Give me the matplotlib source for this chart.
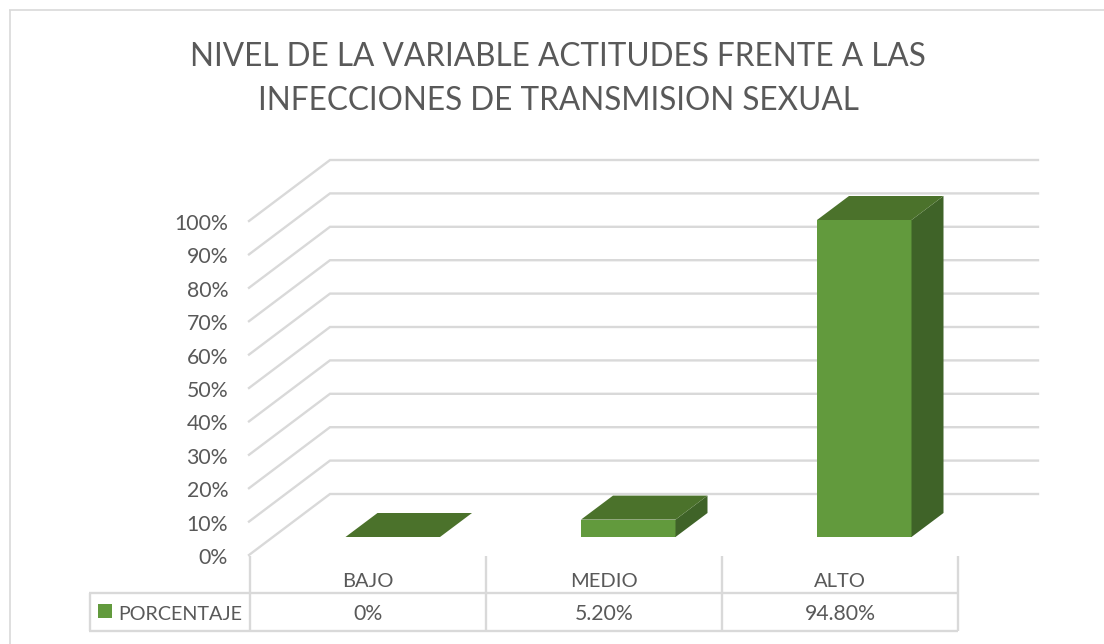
import matplotlib
matplotlib.use("Agg")
import matplotlib.pyplot as plt
from matplotlib.patches import Polygon, Rectangle

categories = ["BAJO", "MEDIO", "ALTO"]
values = [0, 5.2, 94.8]
table_labels = ["0%", "5.20%", "94.80%"]
ticks = [0, 10, 20, 30, 40, 50, 60, 70, 80, 90, 100]
series_name = "PORCENTAJE"
title_lines = ["NIVEL DE LA VARIABLE ACTITUDES FRENTE A LAS",
               "INFECCIONES DE TRANSMISION SEXUAL"]

W, H = 1104, 644
Y0 = 555          # pixel row of 0% on the front edge
PX_PER_PCT = 3.34

GRID = "#D9D9D9"
TEXT = "#595959"
FRONT = "#629A3D"
TOP = "#4B722B"
SIDE = "#3F6328"

plt.rcParams["font.family"] = ["Lato", "DejaVu Sans"]


def row(py):
    # pixel row -> y axis units (percent)
    return (Y0 - py) / PX_PER_PCT


fig = plt.figure(figsize=(W / 100, H / 100), dpi=100)
ax = fig.add_axes([0, 0, 1, 1])
ax.set_xlim(0, W)
ax.set_ylim(row(H), row(0))
ax.axis("off")


def hline(x0, x1, py, lw=1.7):
    ax.plot([x0, x1], [row(py), row(py)], color=GRID, lw=lw, solid_capstyle="butt", zorder=1)


def vline(x, py0, py1, lw=1.7):
    ax.plot([x, x], [row(py0), row(py1)], color=GRID, lw=lw, solid_capstyle="butt", zorder=1)


# outer chart border
hline(9, W, 10, lw=1.2)
vline(9.5, 10, H, lw=1.2)

# title
ax.text(558, row(57), title_lines[0], ha="center", va="center", fontsize=22.7, color=TEXT)
ax.text(558, row(101), title_lines[1], ha="center", va="center", fontsize=22.7, color=TEXT)

# walls
wall_dx = 81
wall_dy = 61 / PX_PER_PCT
for t in ticks:
    ax.plot([249, 249 + wall_dx, 1038], [t, t + wall_dy, t + wall_dy],
            color=GRID, lw=1.7, solid_joinstyle="miter", zorder=1)
    ax.text(228, t - 0.3 - 0.6, f"{t}%", ha="right", va="center", fontsize=15.3, color=TEXT)

# bars
bar_left = [345.5, 581, 817]
bar_w = 94.5
base = row(537)
depth_x = 32
depth_y = 24 / PX_PER_PCT
for x, v in zip(bar_left, values):
    top = base + v * (317 / PX_PER_PCT) / 94.8
    xr = x + bar_w
    if v > 0:
        ax.add_patch(Rectangle((x, base), bar_w, top - base, fc=FRONT, ec="none", zorder=3))
        ax.add_patch(Polygon([(xr, base), (xr + depth_x, base + depth_y),
                              (xr + depth_x, top + depth_y), (xr, top)],
                             fc=SIDE, ec="none", zorder=3))
    ax.add_patch(Polygon([(x, top), (x + depth_x, top + depth_y),
                          (xr + depth_x, top + depth_y), (xr, top)],
                         fc=TOP, ec="none", zorder=3))

# data table
cell_x = [250, 486, 722, 958]
hline(89, 958, 593)
hline(89, 958, 631)
vline(89.5, 593, 631)
for x in cell_x:
    vline(x, 556, 631)
for i, name in enumerate(categories):
    cx = (cell_x[i] + cell_x[i + 1]) / 2
    ax.text(cx, row(581.5), name, ha="center", va="center", fontsize=14.5, color=TEXT)
    ax.text(cx, row(614), table_labels[i], ha="center", va="center", fontsize=15.3, color=TEXT)

ax.add_patch(Rectangle((98, row(618)), 14, row(604) - row(618), fc=FRONT, ec="none", zorder=3))
ax.text(118, row(614), series_name, ha="left", va="center", fontsize=14.2, color=TEXT)

fig.savefig("out.png", dpi=100, facecolor="white")
